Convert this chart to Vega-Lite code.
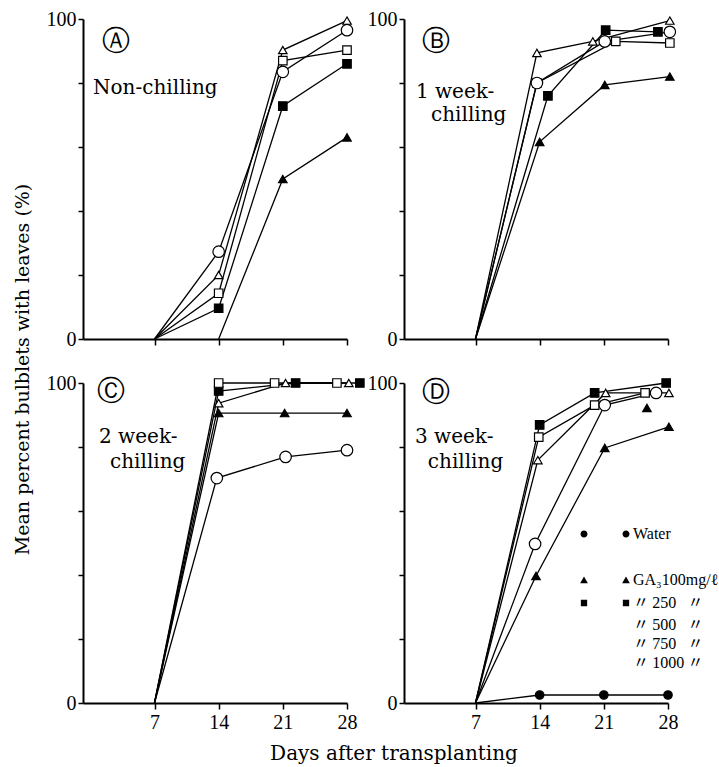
{
  "$schema": "https://vega.github.io/schema/vega-lite/v6.json",
  "padding": {"left": 13, "top": 9, "right": 5, "bottom": 5},
  "background": "white",
  "bounds": "flush",
  "columns": 2,
  "spacing": {"row": 44, "column": 57},
  "title": {"text": "Days after transplanting", "orient": "bottom", "anchor": "middle", "dx": 28, "offset": 12, "font": "DejaVu Serif", "fontSize": 20, "fontWeight": "normal", "color": "black"},
  "resolve": {"scale": {"shape": "independent"}},
  "datasets": {
    "lines": [
      {"panel": "A", "series": "GA100", "day": 14, "pct": 0},
      {"panel": "A", "series": "GA100", "day": 21, "pct": 50},
      {"panel": "A", "series": "GA100", "day": 28, "pct": 63},
      {"panel": "A", "series": "GA250", "day": 7, "pct": 0},
      {"panel": "A", "series": "GA250", "day": 14, "pct": 9.6},
      {"panel": "A", "series": "GA250", "day": 21, "pct": 72.8},
      {"panel": "A", "series": "GA250", "day": 28, "pct": 86},
      {"panel": "A", "series": "GA500", "day": 7, "pct": 0},
      {"panel": "A", "series": "GA500", "day": 14, "pct": 27.3},
      {"panel": "A", "series": "GA500", "day": 21, "pct": 83.5},
      {"panel": "A", "series": "GA500", "day": 28, "pct": 96.5},
      {"panel": "A", "series": "GA750", "day": 7, "pct": 0},
      {"panel": "A", "series": "GA750", "day": 14, "pct": 20},
      {"panel": "A", "series": "GA750", "day": 21, "pct": 90.3},
      {"panel": "A", "series": "GA750", "day": 28, "pct": 99.5},
      {"panel": "A", "series": "GA1000", "day": 7, "pct": 0},
      {"panel": "A", "series": "GA1000", "day": 14, "pct": 14.3},
      {"panel": "A", "series": "GA1000", "day": 21, "pct": 87},
      {"panel": "A", "series": "GA1000", "day": 28, "pct": 90.3},

      {"panel": "B", "series": "GA100", "day": 7, "pct": 0},
      {"panel": "B", "series": "GA100", "day": 14, "pct": 61.6},
      {"panel": "B", "series": "GA100", "day": 21.1, "pct": 79.4},
      {"panel": "B", "series": "GA100", "day": 28.2, "pct": 82},
      {"panel": "B", "series": "GA250", "day": 7, "pct": 0},
      {"panel": "B", "series": "GA250", "day": 14.9, "pct": 76},
      {"panel": "B", "series": "GA250", "day": 21.2, "pct": 96.5},
      {"panel": "B", "series": "GA250", "day": 26.9, "pct": 96},
      {"panel": "B", "series": "GA500", "day": 7, "pct": 0},
      {"panel": "B", "series": "GA500", "day": 13.7, "pct": 80},
      {"panel": "B", "series": "GA500", "day": 21.1, "pct": 93},
      {"panel": "B", "series": "GA500", "day": 28.2, "pct": 96},
      {"panel": "B", "series": "GA750", "day": 7, "pct": 0},
      {"panel": "B", "series": "GA750", "day": 13.7, "pct": 89.4},
      {"panel": "B", "series": "GA750", "day": 19.8, "pct": 93},
      {"panel": "B", "series": "GA750", "day": 28.2, "pct": 99.5},
      {"panel": "B", "series": "GA1000", "day": 7, "pct": 0},
      {"panel": "B", "series": "GA1000", "day": 13.7, "pct": 80},
      {"panel": "B", "series": "GA1000", "day": 22.3, "pct": 93},
      {"panel": "B", "series": "GA1000", "day": 28.2, "pct": 92.5},

      {"panel": "C", "series": "GA100", "day": 7, "pct": 0},
      {"panel": "C", "series": "GA100", "day": 14, "pct": 90.6},
      {"panel": "C", "series": "GA100", "day": 21.2, "pct": 90.6},
      {"panel": "C", "series": "GA100", "day": 28, "pct": 90.6},
      {"panel": "C", "series": "GA250", "day": 7, "pct": 0},
      {"panel": "C", "series": "GA250", "day": 14, "pct": 97.5},
      {"panel": "C", "series": "GA250", "day": 22.4, "pct": 100},
      {"panel": "C", "series": "GA250", "day": 29.4, "pct": 100},
      {"panel": "C", "series": "GA500", "day": 7, "pct": 0},
      {"panel": "C", "series": "GA500", "day": 13.8, "pct": 70.3},
      {"panel": "C", "series": "GA500", "day": 21.3, "pct": 76.9},
      {"panel": "C", "series": "GA500", "day": 28, "pct": 79},
      {"panel": "C", "series": "GA750", "day": 7, "pct": 0},
      {"panel": "C", "series": "GA750", "day": 14, "pct": 93.7},
      {"panel": "C", "series": "GA750", "day": 21.3, "pct": 100},
      {"panel": "C", "series": "GA750", "day": 28.2, "pct": 100},
      {"panel": "C", "series": "GA1000", "day": 7, "pct": 0},
      {"panel": "C", "series": "GA1000", "day": 14, "pct": 100},
      {"panel": "C", "series": "GA1000", "day": 20.1, "pct": 100},
      {"panel": "C", "series": "GA1000", "day": 26.9, "pct": 100},

      {"panel": "D", "series": "Water", "day": 7, "pct": 0},
      {"panel": "D", "series": "Water", "day": 14, "pct": 2.5},
      {"panel": "D", "series": "Water", "day": 21, "pct": 2.5},
      {"panel": "D", "series": "Water", "day": 28, "pct": 2.5},
      {"panel": "D", "series": "GA100", "day": 7, "pct": 0},
      {"panel": "D", "series": "GA100", "day": 13.6, "pct": 39.7},
      {"panel": "D", "series": "GA100", "day": 21.1, "pct": 79.7},
      {"panel": "D", "series": "GA100", "day": 28.1, "pct": 86.3},
      {"panel": "D", "series": "GA250", "day": 7, "pct": 0},
      {"panel": "D", "series": "GA250", "day": 14, "pct": 86.9},
      {"panel": "D", "series": "GA250", "day": 20, "pct": 96.9},
      {"panel": "D", "series": "GA250", "day": 27.8, "pct": 100},
      {"panel": "D", "series": "GA500", "day": 7, "pct": 0},
      {"panel": "D", "series": "GA500", "day": 13.5, "pct": 49.7},
      {"panel": "D", "series": "GA500", "day": 21.1, "pct": 93.1},
      {"panel": "D", "series": "GA500", "day": 26.7, "pct": 96.9},
      {"panel": "D", "series": "GA750", "day": 7, "pct": 0},
      {"panel": "D", "series": "GA750", "day": 13.8, "pct": 75.9},
      {"panel": "D", "series": "GA750", "day": 21.2, "pct": 96.9},
      {"panel": "D", "series": "GA750", "day": 28.1, "pct": 96.9},
      {"panel": "D", "series": "GA1000", "day": 7, "pct": 0},
      {"panel": "D", "series": "GA1000", "day": 13.9, "pct": 83.1},
      {"panel": "D", "series": "GA1000", "day": 20, "pct": 93.1},
      {"panel": "D", "series": "GA1000", "day": 25.5, "pct": 96.9}
    ]
  },
  "concat": [
    {
      "width": 264, "height": 320,
      "layer": [
        {
          "data": {"name": "lines"},
          "transform": [{"filter": "datum.panel === 'A'"}],
          "encoding": {
            "x": {"field": "day", "type": "quantitative", "scale": {"domain": [-0.8, 28], "nice": false, "zero": false}, "axis": {"values": [7, 14, 21, 28], "labels": false, "title": null, "tickSize": 6}},
            "y": {"field": "pct", "type": "quantitative", "scale": {"domain": [0, 100], "nice": false}, "axis": {"values": [0, 10, 20, 30, 40, 50, 60, 70, 80, 90, 100], "labelExpr": "datum.value % 50 === 0 ? datum.label : ''", "labelOverlap": false, "title": "Mean percent bulblets with leaves (%)", "titleFont": "DejaVu Serif", "titleFontSize": 19, "titleFontWeight": "normal", "titleColor": "black", "titleX": -51, "titleY": 350}}
          },
          "layer": [
            {"mark": {"type": "line", "color": "black", "strokeWidth": 1.3}, "encoding": {"detail": {"field": "series"}, "order": {"field": "day"}}},
            {"transform": [{"filter": "datum.day > 7 && datum.pct > 0 && indexof(['Water', 'GA100', 'GA250'], datum.series) >= 0"}],
             "mark": {"type": "point", "filled": true, "fill": "black", "stroke": "black", "strokeWidth": 1.2, "size": 72, "opacity": 1},
             "encoding": {"shape": {"field": "series", "type": "nominal", "scale": {"domain": ["Water", "spacer", "GA100", "GA250", "GA500", "GA750", "GA1000"], "range": ["circle", "circle", "triangle-up", "square", "circle", "triangle-up", "square"]}, "legend": null}}},
            {"transform": [{"filter": "datum.day > 7 && datum.pct > 0 && indexof(['GA750', 'GA1000'], datum.series) >= 0"}],
             "mark": {"type": "point", "filled": true, "fill": "white", "stroke": "black", "strokeWidth": 1.2, "size": 72, "opacity": 1},
             "encoding": {"shape": {"field": "series", "type": "nominal", "legend": null}}},
            {"transform": [{"filter": "datum.day > 7 && datum.pct > 0 && datum.series === 'GA500'"}],
             "mark": {"type": "point", "filled": true, "fill": "white", "stroke": "black", "strokeWidth": 1.2, "size": 132, "opacity": 1},
             "encoding": {"shape": {"field": "series", "type": "nominal", "legend": null}}}
          ]
        },
        {"data": {"values": [{}]}, "mark": {"type": "text", "text": "Ⓐ", "font": "DejaVu Sans", "fontSize": 28, "align": "center", "baseline": "middle", "color": "black"},
         "encoding": {"x": {"datum": 2.8, "type": "quantitative"}, "y": {"datum": 92.8, "type": "quantitative"}}},
        {"data": {"values": [{}]}, "mark": {"type": "text", "text": "Non-chilling", "font": "DejaVu Serif", "fontSize": 20, "align": "left", "baseline": "middle", "color": "black"},
         "encoding": {"x": {"datum": 0.3, "type": "quantitative"}, "y": {"datum": 78.4, "type": "quantitative"}}}
      ]
    },
    {
      "width": 264, "height": 320,
      "layer": [
        {
          "data": {"name": "lines"},
          "transform": [{"filter": "datum.panel === 'B'"}],
          "encoding": {
            "x": {"field": "day", "type": "quantitative", "scale": {"domain": [-0.8, 28], "nice": false, "zero": false}, "axis": {"values": [7, 14, 21, 28], "labels": false, "title": null, "tickSize": 6}},
            "y": {"field": "pct", "type": "quantitative", "scale": {"domain": [0, 100], "nice": false}, "axis": {"values": [0, 10, 20, 30, 40, 50, 60, 70, 80, 90, 100], "labelExpr": "datum.value % 50 === 0 ? datum.label : ''", "labelOverlap": false, "title": null}}
          },
          "layer": [
            {"mark": {"type": "line", "color": "black", "strokeWidth": 1.3}, "encoding": {"detail": {"field": "series"}, "order": {"field": "day"}}},
            {"transform": [{"filter": "datum.day > 7 && datum.pct > 0 && indexof(['Water', 'GA100', 'GA250'], datum.series) >= 0"}],
             "mark": {"type": "point", "filled": true, "fill": "black", "stroke": "black", "strokeWidth": 1.2, "size": 72, "opacity": 1},
             "encoding": {"shape": {"field": "series", "type": "nominal", "scale": {"domain": ["Water", "spacer", "GA100", "GA250", "GA500", "GA750", "GA1000"], "range": ["circle", "circle", "triangle-up", "square", "circle", "triangle-up", "square"]}, "legend": null}}},
            {"transform": [{"filter": "datum.day > 7 && datum.pct > 0 && indexof(['GA750', 'GA1000'], datum.series) >= 0"}],
             "mark": {"type": "point", "filled": true, "fill": "white", "stroke": "black", "strokeWidth": 1.2, "size": 72, "opacity": 1},
             "encoding": {"shape": {"field": "series", "type": "nominal", "legend": null}}},
            {"transform": [{"filter": "datum.day > 7 && datum.pct > 0 && datum.series === 'GA500'"}],
             "mark": {"type": "point", "filled": true, "fill": "white", "stroke": "black", "strokeWidth": 1.2, "size": 132, "opacity": 1},
             "encoding": {"shape": {"field": "series", "type": "nominal", "legend": null}}}
          ]
        },
        {"data": {"values": [{}]}, "mark": {"type": "text", "text": "Ⓑ", "font": "DejaVu Sans", "fontSize": 28, "align": "center", "baseline": "middle", "color": "black"},
         "encoding": {"x": {"datum": 2.7, "type": "quantitative"}, "y": {"datum": 92.8, "type": "quantitative"}}},
        {"data": {"values": [{}]}, "mark": {"type": "text", "text": "1 week-", "font": "DejaVu Serif", "fontSize": 20, "align": "left", "baseline": "middle", "color": "black"},
         "encoding": {"x": {"datum": 0.5, "type": "quantitative"}, "y": {"datum": 77.2, "type": "quantitative"}}},
        {"data": {"values": [{}]}, "mark": {"type": "text", "text": "chilling", "font": "DejaVu Serif", "fontSize": 20, "align": "left", "baseline": "middle", "color": "black"},
         "encoding": {"x": {"datum": 2.15, "type": "quantitative"}, "y": {"datum": 70, "type": "quantitative"}}}
      ]
    },
    {
      "width": 264, "height": 320,
      "layer": [
        {
          "data": {"name": "lines"},
          "transform": [{"filter": "datum.panel === 'C'"}],
          "encoding": {
            "x": {"field": "day", "type": "quantitative", "scale": {"domain": [-0.8, 28], "nice": false, "zero": false}, "axis": {"values": [7, 14, 21, 28], "title": null, "tickSize": 6, "labelPadding": 3, "labelFlush": false, "labelOverlap": false}},
            "y": {"field": "pct", "type": "quantitative", "scale": {"domain": [0, 100], "nice": false}, "axis": {"values": [0, 10, 20, 30, 40, 50, 60, 70, 80, 90, 100], "labelExpr": "datum.value % 50 === 0 ? datum.label : ''", "labelOverlap": false, "title": null}}
          },
          "layer": [
            {"mark": {"type": "line", "color": "black", "strokeWidth": 1.3}, "encoding": {"detail": {"field": "series"}, "order": {"field": "day"}}},
            {"transform": [{"filter": "datum.day > 7 && datum.pct > 0 && indexof(['Water', 'GA100', 'GA250'], datum.series) >= 0"}],
             "mark": {"type": "point", "filled": true, "fill": "black", "stroke": "black", "strokeWidth": 1.2, "size": 72, "opacity": 1},
             "encoding": {"shape": {"field": "series", "type": "nominal", "scale": {"domain": ["Water", "spacer", "GA100", "GA250", "GA500", "GA750", "GA1000"], "range": ["circle", "circle", "triangle-up", "square", "circle", "triangle-up", "square"]}, "legend": null}}},
            {"transform": [{"filter": "datum.day > 7 && datum.pct > 0 && indexof(['GA750', 'GA1000'], datum.series) >= 0"}],
             "mark": {"type": "point", "filled": true, "fill": "white", "stroke": "black", "strokeWidth": 1.2, "size": 72, "opacity": 1},
             "encoding": {"shape": {"field": "series", "type": "nominal", "legend": null}}},
            {"transform": [{"filter": "datum.day > 7 && datum.pct > 0 && datum.series === 'GA500'"}],
             "mark": {"type": "point", "filled": true, "fill": "white", "stroke": "black", "strokeWidth": 1.2, "size": 132, "opacity": 1},
             "encoding": {"shape": {"field": "series", "type": "nominal", "legend": null}}}
          ]
        },
        {"data": {"values": [{}]}, "mark": {"type": "text", "text": "Ⓒ", "font": "DejaVu Sans", "fontSize": 28, "align": "center", "baseline": "middle", "color": "black"},
         "encoding": {"x": {"datum": 2.25, "type": "quantitative"}, "y": {"datum": 97.2, "type": "quantitative"}}},
        {"data": {"values": [{}]}, "mark": {"type": "text", "text": "2 week-", "font": "DejaVu Serif", "fontSize": 20, "align": "left", "baseline": "middle", "color": "black"},
         "encoding": {"x": {"datum": 0.95, "type": "quantitative"}, "y": {"datum": 83.1, "type": "quantitative"}}},
        {"data": {"values": [{}]}, "mark": {"type": "text", "text": "chilling", "font": "DejaVu Serif", "fontSize": 20, "align": "left", "baseline": "middle", "color": "black"},
         "encoding": {"x": {"datum": 2.15, "type": "quantitative"}, "y": {"datum": 75.3, "type": "quantitative"}}}
      ]
    },
    {
      "width": 264, "height": 320,
      "layer": [
        {
          "data": {"name": "lines"},
          "transform": [{"filter": "datum.panel === 'D'"}],
          "encoding": {
            "x": {"field": "day", "type": "quantitative", "scale": {"domain": [-0.8, 28], "nice": false, "zero": false}, "axis": {"values": [7, 14, 21, 28], "title": null, "tickSize": 6, "labelPadding": 3, "labelFlush": false, "labelOverlap": false}},
            "y": {"field": "pct", "type": "quantitative", "scale": {"domain": [0, 100], "nice": false}, "axis": {"values": [0, 10, 20, 30, 40, 50, 60, 70, 80, 90, 100], "labelExpr": "datum.value % 50 === 0 ? datum.label : ''", "labelOverlap": false, "title": null}}
          },
          "resolve": {"scale": {"shape": "independent"}},
          "layer": [
            {"mark": {"type": "line", "color": "black", "strokeWidth": 1.3}, "encoding": {"detail": {"field": "series"}, "order": {"field": "day"}}},
            {"transform": [{"filter": "datum.day > 7 && datum.pct > 0 && indexof(['Water', 'GA100', 'GA250'], datum.series) >= 0"}],
             "mark": {"type": "point", "filled": true, "fill": "black", "stroke": "black", "strokeWidth": 1.2, "size": 72, "opacity": 1},
             "encoding": {"shape": {"field": "series", "type": "nominal", "scale": {"domain": ["Water", "spacer", "GA100", "GA250", "GA500", "GA750", "GA1000"], "range": ["circle", "circle", "triangle-up", "square", "circle", "triangle-up", "square"]}, "legend": null}}},
            {"transform": [{"filter": "datum.day > 7 && datum.pct > 0 && indexof(['GA750', 'GA1000'], datum.series) >= 0"}],
             "mark": {"type": "point", "filled": true, "fill": "white", "stroke": "black", "strokeWidth": 1.2, "size": 72, "opacity": 1},
             "encoding": {"shape": {"field": "series", "type": "nominal", "scale": {"domain": ["Water", "spacer", "GA100", "GA250", "GA500", "GA750", "GA1000"], "range": ["circle", "circle", "triangle-up", "square", "circle", "triangle-up", "square"]}, "legend": null}}},
            {"transform": [{"filter": "datum.day > 7 && datum.pct > 0 && datum.series === 'GA500'"}],
             "mark": {"type": "point", "filled": true, "fill": "white", "stroke": "black", "strokeWidth": 1.2, "size": 132, "opacity": 1},
             "encoding": {"shape": {"field": "series", "type": "nominal", "scale": {"domain": ["Water", "spacer", "GA100", "GA250", "GA500", "GA750", "GA1000"], "range": ["circle", "circle", "triangle-up", "square", "circle", "triangle-up", "square"]}, "legend": null}}},
            {"transform": [{"filter": "indexof(['Water', 'GA100', 'GA250'], datum.series) >= 0"}],
             "mark": {"type": "point", "filled": true, "fill": "black", "stroke": "black", "opacity": 0},
             "encoding": {
               "shape": {"field": "series", "type": "nominal",
                 "scale": {"domain": ["Water", "spacer", "GA100", "GA250"],
                   "range": [
                     "M -2.5 0 A 0.5 0.5 0 1 1 -3.5 0 A 0.5 0.5 0 1 1 -2.5 0 Z M -2.5 0 L 2.5 0 M 3.5 0 A 0.5 0.5 0 1 1 2.5 0 A 0.5 0.5 0 1 1 3.5 0 Z",
                     "M 0 0",
                     "M -3.55 0.45 L -3 -0.5 L -2.45 0.45 Z M -2.45 0 L 2.45 0 M 2.45 0.45 L 3 -0.5 L 3.55 0.45 Z",
                     "M -3.45 -0.45 L -2.55 -0.45 L -2.55 0.45 L -3.45 0.45 Z M -2.55 0 L 2.55 0 M 2.55 -0.45 L 3.45 -0.45 L 3.45 0.45 L 2.55 0.45 Z"
                   ]},
                 "legend": {
                   "orient": "none", "legendX": 193, "legendY": 143, "title": null, "padding": 0,
                   "symbolSize": 196, "symbolStrokeWidth": 1.2, "symbolStrokeColor": "black", "symbolFillColor": "black", "symbolOpacity": 1,
                   "labelFont": "Liberation Serif, Noto Sans CJK JP", "labelFontSize": 16, "labelColor": "black", "labelOffset": 20, "labelLimit": 300, "rowPadding": 7,
                   "labelExpr": "datum.value === 'Water' ? 'Water' : datum.value === 'GA100' ? 'GA₃100mg/ℓ' : datum.value === 'GA250' ? '\u2009〃\u2009250\u2002\u2009〃' : ''",
                   "encode": {"symbols": {"stroke": {"value": "black"}, "strokeWidth": {"value": 1.2}, "fill": {"value": "black"}}}
                 }}
             }},
            {"transform": [{"filter": "indexof(['GA500', 'GA750', 'GA1000'], datum.series) >= 0"}],
             "mark": {"type": "point", "filled": true, "fill": "white", "stroke": "black", "opacity": 0},
             "encoding": {
               "shape": {"field": "series", "type": "nominal",
                 "scale": {"domain": ["GA500", "GA750", "GA1000"],
                   "range": [
                     "M -2.55 0 A 0.45 0.45 0 1 1 -3.45 0 A 0.45 0.45 0 1 1 -2.55 0 Z M -2.55 0 L 2.55 0 M 3.45 0 A 0.45 0.45 0 1 1 2.55 0 A 0.45 0.45 0 1 1 3.45 0 Z",
                     "M -3.55 0.45 L -3 -0.5 L -2.45 0.45 Z M -2.45 0 L 2.45 0 M 2.45 0.45 L 3 -0.5 L 3.55 0.45 Z",
                     "M -3.45 -0.45 L -2.55 -0.45 L -2.55 0.45 L -3.45 0.45 Z M -2.55 0 L 2.55 0 M 2.55 -0.45 L 3.45 -0.45 L 3.45 0.45 L 2.55 0.45 Z"
                   ]},
                 "legend": {
                   "orient": "none", "legendX": 193, "legendY": 234, "title": null, "padding": 0,
                   "symbolSize": 196, "symbolStrokeWidth": 1.2, "symbolStrokeColor": "black", "symbolFillColor": "white", "symbolOpacity": 1,
                   "labelFont": "Liberation Serif, Noto Sans CJK JP", "labelFontSize": 16, "labelColor": "black", "labelOffset": 20, "labelLimit": 300, "rowPadding": 3,
                   "labelExpr": "datum.value === 'GA500' ? '\u2009〃\u2009500\u2002\u2009〃' : datum.value === 'GA750' ? '\u2009〃\u2009750\u2002\u2009〃' : datum.value === 'GA1000' ? '\u2009〃\u20091000\u2009〃' : ''",
                   "encode": {"symbols": {"stroke": {"value": "black"}, "strokeWidth": {"value": 1.2}, "fill": {"value": "white"}}}
                 }}
             }}
          ]
        },
        {"data": {"values": [{}]},
         "mark": {"type": "point", "shape": "triangle-up", "filled": true, "fill": "black", "stroke": "black", "strokeWidth": 1.2, "size": 72, "opacity": 1},
         "encoding": {"x": {"datum": 25.7, "type": "quantitative"}, "y": {"datum": 92.2, "type": "quantitative"}}},
        {"data": {"values": [{}]}, "mark": {"type": "text", "text": "Ⓓ", "font": "DejaVu Sans", "fontSize": 28, "align": "center", "baseline": "middle", "color": "black"},
         "encoding": {"x": {"datum": 2.7, "type": "quantitative"}, "y": {"datum": 96.9, "type": "quantitative"}}},
        {"data": {"values": [{}]}, "mark": {"type": "text", "text": "3 week-", "font": "DejaVu Serif", "fontSize": 20, "align": "left", "baseline": "middle", "color": "black"},
         "encoding": {"x": {"datum": 0.4, "type": "quantitative"}, "y": {"datum": 83.1, "type": "quantitative"}}},
        {"data": {"values": [{}]}, "mark": {"type": "text", "text": "chilling", "font": "DejaVu Serif", "fontSize": 20, "align": "left", "baseline": "middle", "color": "black"},
         "encoding": {"x": {"datum": 1.8, "type": "quantitative"}, "y": {"datum": 75.3, "type": "quantitative"}}}
      ]
    }
  ],
  "config": {
    "font": "Liberation Serif",
    "view": {"stroke": null},
    "point": {"stroke": "black", "strokeWidth": 1.2},
    "legend": {"symbolStrokeColor": "black", "symbolStrokeWidth": 1.2},
    "axis": {"domainColor": "black", "domainWidth": 2, "tickColor": "black", "tickWidth": 1.5, "tickSize": 5, "labelColor": "black", "labelFont": "Liberation Serif", "labelFontSize": 20, "labelPadding": 2, "grid": false, "labelFlush": false, "labelOverlap": false}
  }
}
